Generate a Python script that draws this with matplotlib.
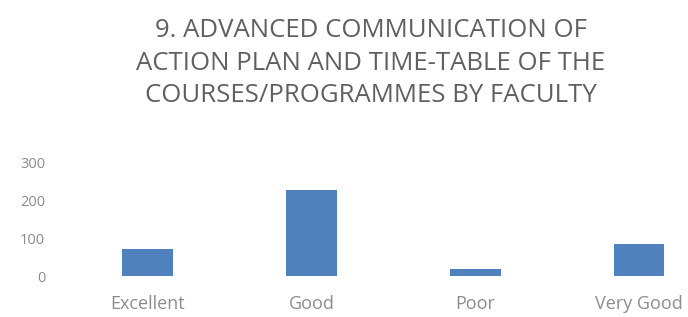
import matplotlib
matplotlib.use("Agg")
import matplotlib.pyplot as plt

# Data.
categories = ["Excellent", "Good", "Poor", "Very Good"]
values = [72, 228, 19, 85]
yticks = [0, 100, 200, 300]
title = ("9. ADVANCED COMMUNICATION OF\n"
         "ACTION PLAN AND TIME-TABLE OF THE\n"
         "COURSES/PROGRAMMES BY FACULTY")

plt.rcParams['font.family'] = ['Open Sans', 'DejaVu Sans']

fig = plt.figure(figsize=(6.88, 3.17), dpi=100)

# Plot area placed in figure pixels.
W, H = 688, 317
left, right = 66, 688
bottom, top = 317 - 276, 317 - 163
ax = fig.add_axes([left / W, bottom / H, (right - left) / W, (top - bottom) / H])

ax.bar(range(len(categories)), values, width=0.31, color="#4f81bd")

ax.set_xlim(-0.5, 3.3)
ax.set_ylim(0, 300)
ax.set_yticks(yticks)
ax.set_xticks(range(len(categories)))
ax.set_xticklabels(categories, fontsize=13, color="#8c8c8c")
ax.tick_params(axis="y", labelsize=10.5, labelcolor="#8c8c8c", length=0, pad=15)
ax.tick_params(axis="x", length=0, pad=14)
for s in ax.spines.values():
    s.set_visible(False)

fig.text(371 / W, 1 - 63 / H, title, ha="center", va="center",
         fontsize=18.5, color="#606060", linespacing=1.38)

fig.savefig("out.png", dpi=100)
